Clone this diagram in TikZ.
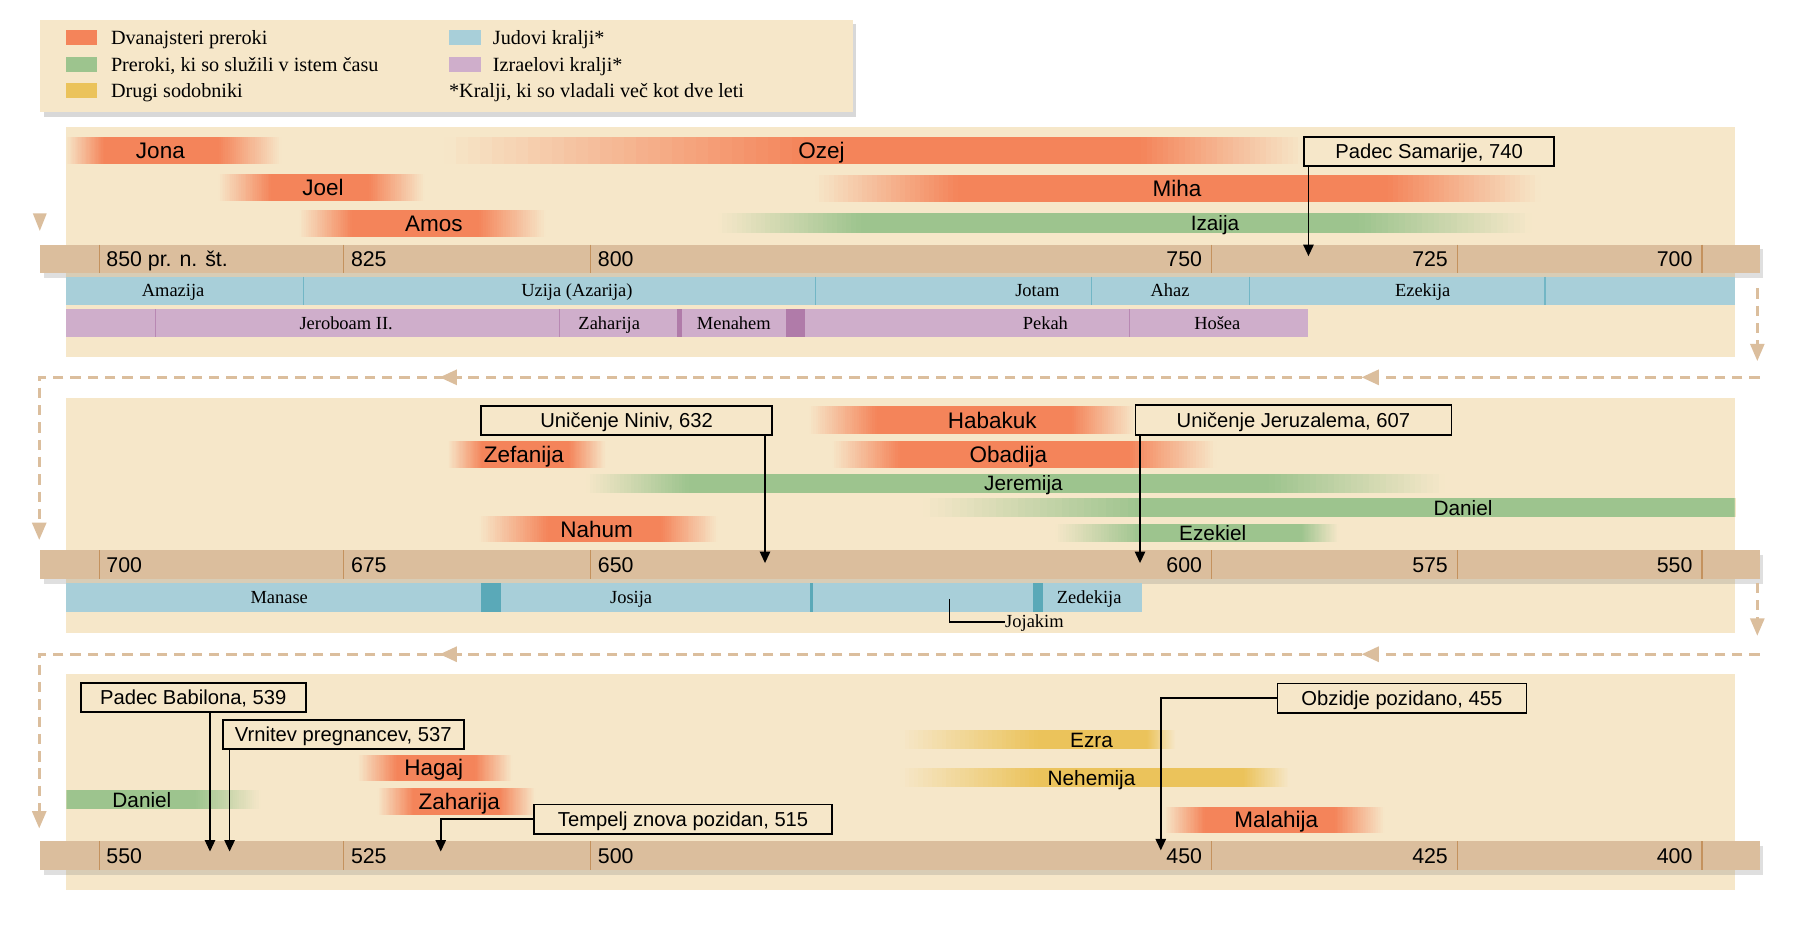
\documentclass[tikz,border=0pt]{standalone}
\usepackage{fontspec}
\setmainfont{Liberation Serif}
\newfontfamily\lsans{Liberation Sans}
\usetikzlibrary{arrows.meta,shadows,decorations.markings}
\definecolor{bg}{HTML}{F6E7C9}
\definecolor{tanc}{HTML}{DBBE9D}
\definecolor{tickc}{HTML}{C4925E}
\definecolor{orng}{HTML}{F4845A}
\definecolor{grn}{HTML}{9DC48E}
\definecolor{ylw}{HTML}{EBC35B}
\definecolor{blu}{HTML}{A8CFD9}
\definecolor{bludk}{HTML}{5AA9B8}
\definecolor{bluln}{HTML}{72B6C5}
\definecolor{pnk}{HTML}{CFAECB}
\definecolor{pnkdk}{HTML}{B07BA9}
\definecolor{pnkln}{HTML}{B888B3}
\newcounter{barn}
% stripes that fade: #1 colour, #2 x from, #3 x to, #4 top, #5 bottom, #6 0 = background->colour, 1 = colour->background
\newcommand\fadeband[6]{%
  \foreach \k in {0,...,29}{%
    \pgfmathtruncatemacro\pp{abs(#6*100-(\k+0.5)*100/30)}%
    \fill[#1!\pp!bg] ({#2+(#3-#2)*\k/30},#4) rectangle ({#2+(#3-#2)*(\k+1)/30+0.4},#5);}}
% #1 colour, #2..#5 x positions (fade start, solid start, solid end, fade end), #6 top, #7 bottom, #8 label x, #9 label
\newcommand\pbar[9]{%
  \fadeband{#1}{#2}{#3}{#6}{#7}{0}%
  \fadeband{#1}{#4}{#5}{#6}{#7}{1}%
  \fill[#1] (#3,#6) rectangle (#4,#7);
  \stepcounter{barn}%
  \node[lbl #1] (bar\thebarn) at (#8,{(#6+#7)/2}) {#9};}
\begin{document}
\begin{tikzpicture}[x=1pt,y=-1pt,
  barlbl/.style={inner sep=0pt,text height=14pt,text depth=0pt,font=\lsans\fontsize{19.5}{20}\selectfont},
  lbl orng/.style={barlbl},
  lbl grn/.style={inner sep=0pt,text height=13pt,text depth=0pt,font=\lsans\fontsize{18}{18}\selectfont},
  lbl ylw/.style={lbl grn},
  evbox/.style={draw=black,line width=1.4pt,fill=bg,inner sep=0pt,minimum height=25.5pt,font=\lsans\fontsize{17.5}{18}\selectfont,text height=12.5pt,text depth=0pt},
  evarrow/.style={line width=1.4pt,-{Triangle[length=10pt,width=9pt]}},
  tllbl/.style={inner sep=0pt,text height=13.2pt,text depth=0pt,font=\lsans\fontsize{18.5}{19}\selectfont},
  kinglbl/.style={inner sep=0pt,text height=10.6pt,text depth=0pt,font=\fontsize{16}{16}\selectfont},
  leglbl/.style={inner sep=0pt,text height=11.6pt,text depth=0pt,anchor=west,font=\fontsize{17.5}{18}\selectfont},
  swatch/.style={inner sep=0pt,minimum width=27pt,minimum height=13pt},
  tlbar/.style={fill=tanc,drop shadow={shadow xshift=3pt,shadow yshift=-4pt,opacity=0.25}},
  tick/.style={draw=tickc,line width=1pt},
  flow/.style={color=tanc,line width=2.6pt,dash pattern=on 9pt off 6pt},
  flowtip/.style={-{Triangle[length=15pt,width=12pt]}},
  flowmid/.style={postaction={decorate,decoration={markings,
     mark=at position 345pt with {\arrow{Triangle[length=15pt,width=13pt]}},
     mark=at position 1144pt with {\arrow{Triangle[length=15pt,width=13pt]}}}}},
  kdiv/.style={draw=bluln,line width=1pt},
  pdiv/.style={draw=pnkln,line width=1pt}]
\useasboundingbox (0,0) rectangle (1560,806);
\fill[white] (0,0) rectangle (1560,806);

% ---------------- legend
\fill[bg,drop shadow={shadow xshift=3pt,shadow yshift=-4pt,opacity=0.3}] (35,17) rectangle (739,97);
\node[swatch,fill=orng] (sw1) at (70.5,32.5) {};
\node[swatch,fill=grn] (sw2) at (70.5,55.5) {};
\node[swatch,fill=ylw] (sw3) at (70.5,78.5) {};
\node[swatch,fill=blu] (sw4) at (403,32.5) {};
\node[swatch,fill=pnk] (sw5) at (403,55.5) {};
\node[leglbl] (lg1) at (96,33) {Dvanajsteri preroki};
\node[leglbl] (lg2) at (96,56) {Preroki, ki so služili v istem času};
\node[leglbl] (lg3) at (96,79) {Drugi sodobniki};
\node[leglbl] (lg4) at (427,33) {Judovi kralji*};
\node[leglbl] (lg5) at (427,56) {Izraelovi kralji*};
\node[leglbl] (lg6) at (389,79) {*Kralji, ki so vladali več kot dve leti};

% ---------------- section 1
\fill[bg] (57,110) rectangle (1504,309);
\pbar{orng}{57}{90}{190}{244}{119}{142}{139}{Jona}
\pbar{orng}{189}{235}{320}{368}{151}{174}{280}{Joel}
\pbar{orng}{259}{305}{415}{473}{182}{205}{376}{Amos}
\pbar{orng}{385}{697}{989}{1130}{119}{142}{712}{Ozej}
\pbar{orng}{706}{830}{1203}{1335}{152}{175}{1020}{Miha}
\pbar{grn}{622}{746}{1178}{1327}{185}{202}{1053}{Izaija}

\fill[tlbar] (35,212) rectangle (1525,237);
\foreach \tk in {86,298,512,1050,1263,1475} \draw[tick] (\tk,212) -- (\tk,237);
\node[tllbl,anchor=west] (a850) at (92,224.5) {850 pr. n. št.};
\node[tllbl,anchor=west] (a825) at (304,224.5) {825};
\node[tllbl,anchor=west] (a800) at (518,224.5) {800};
\node[tllbl,anchor=east] (a750) at (1042,224.5) {750};
\node[tllbl,anchor=east] (a725) at (1255,224.5) {725};
\node[tllbl,anchor=east] (a700) at (1467,224.5) {700};

\fill[blu] (57,240) rectangle (1504,264);
\foreach \dv in {263,707,946,1083,1339} \draw[kdiv] (\dv,240) -- (\dv,264);
\node[kinglbl] (k1) at (150,252) {Amazija};
\node[kinglbl] (k2) at (500,252) {Uzija (Azarija)};
\node[kinglbl] (k3) at (899,252) {Jotam};
\node[kinglbl] (k4) at (1014,252) {Ahaz};
\node[kinglbl] (k5) at (1233,252) {Ezekija};

\fill[pnk] (57,268) rectangle (1134,292);
\foreach \dv in {135,485,979} \draw[pdiv] (\dv,268) -- (\dv,292);
\fill[pnkdk] (587,268) rectangle (591,292);
\fill[pnkdk] (681,268) rectangle (698,292);
\node[kinglbl] (i1) at (300,280) {Jeroboam II.};
\node[kinglbl] (i2) at (528,280) {Zaharija};
\node[kinglbl] (i3) at (636,280) {Menahem};
\node[kinglbl] (i4) at (906,280) {Pekah};
\node[kinglbl] (i5) at (1055,280) {Hošea};

\node[evbox,minimum width=217pt] (samaria) at (1238.5,131.25) {Padec Samarije, 740};
\coordinate (t740) at (1134,222);
\draw[evarrow] (samaria.south west -| t740) -- (t740);

% flow 1 -> 2
\fill[tanc] (28.5,185) -- (40.5,185) -- (34.5,200) -- cycle;
\coordinate (r1a) at (1523,250);
\coordinate (r1b) at (1523,313);
\draw[flow,flowtip] (r1a) -- (r1b);
\coordinate (h1a) at (1525,327);
\coordinate (h1b) at (34,327);
\coordinate (h1c) at (34,468);
\draw[flow,flowtip,flowmid] (h1a) -- (h1b) -- (h1c);

% ---------------- section 2
\fill[bg] (57,345) rectangle (1504,549);
\pbar{orng}{701}{760}{929}{984}{352}{376}{860}{Habakuk}
\pbar{orng}{388}{418}{493}{525}{382}{406}{454}{Zefanija}
\pbar{orng}{721}{780}{979}{1054}{382}{406}{874}{Obadija}
\pbar{grn}{508}{597}{1100}{1252}{411}{427}{887}{Jeremija}
\pbar{grn}{800}{990}{1503}{1504}{432}{448}{1268}{Daniel}
\pbar{grn}{914}{989}{1128}{1160}{454}{470}{1051}{Ezekiel}
\pbar{orng}{415}{475}{573}{622}{447}{470}{517}{Nahum}

\fill[tlbar] (35,477) rectangle (1525,502);
\foreach \tk in {86,298,512,1050,1263,1475} \draw[tick] (\tk,477) -- (\tk,502);
\node[tllbl,anchor=west] (b700) at (92,489.5) {700};
\node[tllbl,anchor=west] (b675) at (304,489.5) {675};
\node[tllbl,anchor=west] (b650) at (518,489.5) {650};
\node[tllbl,anchor=east] (b600) at (1042,489.5) {600};
\node[tllbl,anchor=east] (b575) at (1255,489.5) {575};
\node[tllbl,anchor=east] (b550) at (1467,489.5) {550};

\fill[blu] (57,505) rectangle (990,530);
\fill[bludk] (417,505) rectangle (434,530);
\fill[bludk] (702,505) rectangle (705,530);
\fill[bludk] (895,505) rectangle (904,530);
\node[kinglbl] (m1) at (242,517.5) {Manase};
\node[kinglbl] (m2) at (547,517.5) {Josija};
\node[kinglbl] (m3) at (944,517.5) {Zedekija};
\coordinate (jk1) at (823,519);
\coordinate (jk2) at (823,539);
\node[kinglbl,anchor=west,font=\fontsize{16}{16}\selectfont,text height=10.5pt] (jojakim) at (871,539) {Jojakim};
\draw[line width=1.3pt] (jk1) -- (jk2) -- (jojakim.west);

\node[evbox,minimum width=252pt] (niniv) at (543,364.5) {Uničenje Niniv, 632};
\coordinate (t632) at (663,488);
\draw[evarrow] (niniv.south west -| t632) -- (t632);
\node[evbox,minimum width=274pt] (jeruz) at (1121,364) {Uničenje Jeruzalema, 607};
\coordinate (t607) at (988,488);
\draw[evarrow] (jeruz.south west -| t607) -- (t607);

% flow 2 -> 3
\coordinate (r2a) at (1523,505);
\coordinate (r2b) at (1523,551);
\draw[flow,flowtip] (r2a) -- (r2b);
\coordinate (h2a) at (1525,567);
\coordinate (h2b) at (34,567);
\coordinate (h2c) at (34,718);
\draw[flow,flowtip,flowmid] (h2a) -- (h2b) -- (h2c);

% ---------------- section 3
\fill[bg] (57,584) rectangle (1504,771);
\pbar{orng}{310}{344}{412}{444}{654}{677}{376}{Hagaj}
\pbar{grn}{57}{58}{170}{226}{685}{701}{123}{Daniel}
\pbar{orng}{327}{358}{433}{464}{683}{706}{398}{Zaharija}
\pbar{ylw}{780}{900}{994}{1019}{633}{649}{946}{Ezra}
\pbar{ylw}{780}{900}{1078}{1118}{666}{682}{946}{Nehemija}
\pbar{orng}{1009}{1044}{1157}{1200}{699}{722}{1106}{Malahija}

\fill[tlbar] (35,729) rectangle (1525,754);
\foreach \tk in {86,298,512,1050,1263,1475} \draw[tick] (\tk,729) -- (\tk,754);
\node[tllbl,anchor=west] (c550) at (92,741.5) {550};
\node[tllbl,anchor=west] (c525) at (304,741.5) {525};
\node[tllbl,anchor=west] (c500) at (518,741.5) {500};
\node[tllbl,anchor=east] (c450) at (1042,741.5) {450};
\node[tllbl,anchor=east] (c425) at (1255,741.5) {425};
\node[tllbl,anchor=east] (c400) at (1467,741.5) {400};

\node[evbox,minimum width=195pt] (babilon) at (167.5,604.5) {Padec Babilona, 539};
\coordinate (t539) at (182,738);
\draw[evarrow] (babilon.south west -| t539) -- (t539);
\node[evbox,minimum width=209pt] (vrnitev) at (297.5,636.5) {Vrnitev pregnancev, 537};
\coordinate (t537) at (199,738);
\draw[evarrow] (vrnitev.south west -| t537) -- (t537);
\node[evbox,minimum width=258pt] (tempelj) at (592,710) {Tempelj znova pozidan, 515};
\coordinate (t515) at (382,738);
\draw[evarrow] (tempelj.west) -| (t515);
\node[evbox,minimum width=216pt] (obzidje) at (1215,605) {Obzidje pozidano, 455};
\coordinate (t455) at (1006,737);
\draw[evarrow] (obzidje.west) -| (t455);
\end{tikzpicture}
\end{document}
